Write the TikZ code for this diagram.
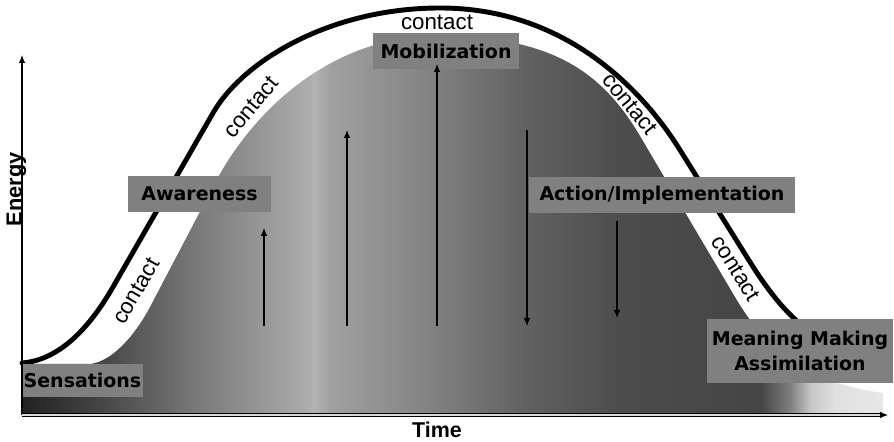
\documentclass[tikz,border=0pt]{standalone}
\usepackage{fontspec}
\setmainfont{Liberation Sans}
\newfontfamily\stagefont{DejaVu Sans}
\usetikzlibrary{arrows.meta}

% grey levels under the curve, from left to right
\pgfdeclarehorizontalshading{energyfill}{100bp}{
  color(0bp)=(black!87); color(25bp)=(black!87); color(29.5bp)=(black!73);
  color(35.3bp)=(black!52); color(41.1bp)=(black!34); color(42bp)=(black!30);
  color(42.9bp)=(black!37); color(49.1bp)=(black!50); color(54.3bp)=(black!62);
  color(59.7bp)=(black!70); color(67.9bp)=(black!73); color(69.6bp)=(black!50);
  color(70.8bp)=(black!22); color(72.2bp)=(black!12); color(75bp)=(black!9);
  color(100bp)=(black!9)}

\begin{document}
\begin{tikzpicture}[x=0.02cm, y=-0.02cm, line join=round, >={Latex[length=1.6mm,width=1.3mm]},
    stage/.style={fill=black!50, inner sep=0pt, align=center,
      font={\stagefont\bfseries\fontsize{10.8}{14.2}\selectfont}},
    contact/.style={inner sep=0pt, font={\fontsize{12.7}{15}\selectfont}}]
  \useasboundingbox (0,0) rectangle (894,442);
  \path
  (22,415) coordinate (O)
  (22,55) coordinate (Y)
  (888,415) coordinate (X);
  % area under the curve
  \shade[shading=energyfill] (22,413) -- (22,364) -- (90,364)
    .. controls (110,362) and (133,339) .. (150,307) -- (215,183)
    .. controls (250,116) and (327,36) .. (437,36)
    .. controls (547,36) and (600,68) .. (640,136) -- (735,297)
    .. controls (762,343) and (800,382) .. (883,393) -- (883,413) -- cycle;
  % contact line
  \draw[line width=2.8pt, line cap=round] (22,363)
    .. controls (60,360) and (90,327) .. (113,287) -- (213,113)
    .. controls (243,61) and (330,8) .. (440,8)
    .. controls (580,8) and (655,110) .. (680,150) -- (750,262)
    .. controls (775,302) and (800,330) .. (830,342);
  \node[contact, rotate=60] (c1) at (136,291) {contact};
  \node[contact, rotate=50] (c2) at (251,107) {contact};
  \node[contact] (c3) at (437,22) {contact};
  \node[contact, rotate=-51] (c4) at (630,104) {contact};
  \node[contact, rotate=-58] (c5) at (736,268) {contact};
  % stages
  \node[stage, minimum width=2.42cm, minimum height=0.66cm] (sens) at (82.5,380.5) {Sensations};
  \node[stage, minimum width=2.86cm, minimum height=0.72cm] (aware) at (199.5,194) {Awareness};
  \node[stage, minimum width=2.92cm, minimum height=0.72cm] (mob) at (446,51) {Mobilization};
  \node[stage, minimum width=5.32cm, minimum height=0.72cm] (act) at (662,195) {Action/Implementation};
  \node[stage, minimum width=3.72cm, minimum height=1.28cm] (mean) at (800,351) {Meaning Making\\Assimilation};
  % rising and falling energy
  \path
  (264,326) coordinate (s1) (264,228) coordinate (t1)
  (347,326) coordinate (s2) (347,130) coordinate (t2)
  (437,326) coordinate (s3) (437,64) coordinate (t3)
  (527,130) coordinate (s4) (527,326) coordinate (t4)
  (617,221) coordinate (s5) (617,318) coordinate (t5);
  \foreach \a/\b in {s1/t1, s2/t2, s3/t3, s4/t4, s5/t5}
  \draw[->, line width=0.6pt] (\a) -- (\b);
  % axes
  \draw[->, line width=0.6pt] (O) -- (Y);
  \draw[->, line width=0.5pt, double=black!15, double distance=1pt] (O) -- (X);
  \node[rotate=90, inner sep=0pt, font={\bfseries\fontsize{12.4}{15}\selectfont}] (energy) at (16.5,189.5) {Energy};
  \node[inner sep=0pt, font={\bfseries\fontsize{12.2}{15}\selectfont}] (time) at (437,430) {Time};
\end{tikzpicture}
\end{document}
